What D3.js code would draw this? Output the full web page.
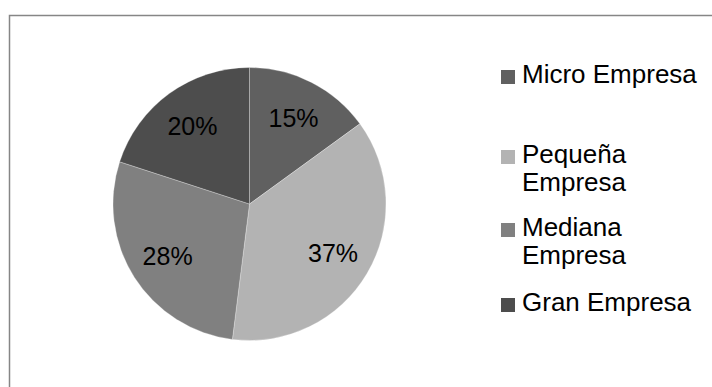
<html>

<head>
    <meta charset="utf-8">
    <title>Empresas</title>
    <style>
        body { margin: 0; background: #fff; }
        text { font-family: "Liberation Sans", Arial, sans-serif; }
    </style>
</head>

<body>
    <script src="https://cdn.jsdelivr.net/npm/d3@7/dist/d3.min.js"></script>
    <script>
        // datos
        var categorias = ["Micro Empresa", "Pequeña Empresa", "Mediana Empresa", "Gran Empresa"];
        var etiquetas = [["Micro Empresa"], ["Pequeña", "Empresa"], ["Mediana", "Empresa"], ["Gran Empresa"]];
        var valores = [15, 37, 28, 20];
        var colores = ["#606060", "#b3b3b3", "#808080", "#4d4d4d"];

        var width = 712, height = 387;
        var cx = 249.5, cy = 204, radio = 136.5;

        var svg = d3.select("body").append("svg")
            .attr("width", width)
            .attr("height", height);

        // marco (solo se ven izquierda y arriba)
        svg.append("rect")
            .attr("x", 9.5).attr("y", 15.5)
            .attr("width", width + 20).attr("height", height + 20)
            .attr("fill", "none")
            .attr("stroke", "#868686")
            .attr("stroke-width", 1.5);

        var color = d3.scaleOrdinal().domain(categorias).range(colores);

        var pie = d3.pie().sort(null).value(d => d);
        var arcos = pie(valores);
        var arc = d3.arc().innerRadius(0).outerRadius(radio);
        var arcEtiqueta = d3.arc().innerRadius(97).outerRadius(97);

        var g = svg.append("g").attr("transform", "translate(" + cx + "," + cy + ")");

        g.selectAll("path")
            .data(arcos)
            .enter()
            .append("path")
            .attr("d", arc)
            .attr("fill", (d, i) => color(categorias[i]))
            .attr("stroke", "#ffffff")
            .attr("stroke-opacity", 0.35)
            .attr("stroke-width", 0.8);

        g.selectAll("text.pct")
            .data(arcos)
            .enter()
            .append("text")
            .attr("class", "pct")
            .attr("transform", d => "translate(" + arcEtiqueta.centroid(d) + ")")
            .attr("text-anchor", "middle")
            .attr("dy", "0.36em")
            .attr("font-size", 25)
            .attr("fill", "#000")
            .text(d => d.data + "%");

        // leyenda
        var leyendaY = [83, 163, 236, 311]; // linea base de cada entrada
        var leyenda = svg.append("g");
        var item = leyenda.selectAll("g")
            .data(categorias)
            .enter()
            .append("g")
            .attr("transform", (d, i) => "translate(501," + leyendaY[i] + ")");

        item.append("rect")
            .attr("x", 0).attr("y", -13)
            .attr("width", 14).attr("height", 14)
            .attr("fill", d => color(d));

        item.append("text")
            .attr("x", 21)
            .attr("font-size", 26)
            .attr("fill", "#000")
            .selectAll("tspan")
            .data((d, i) => etiquetas[i])
            .enter()
            .append("tspan")
            .attr("x", 21)
            .attr("dy", (d, j) => j === 0 ? 0 : 28)
            .text(d => d);
    </script>
</body>

</html>
